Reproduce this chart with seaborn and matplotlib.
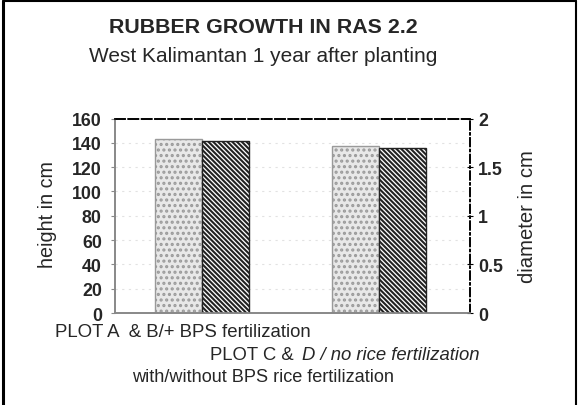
import pandas as pd
import matplotlib.pyplot as plt
import seaborn as sns
from matplotlib.lines import Line2D

# values
plots = ['PLOT A & B', 'PLOT C & D']
height_cm = [143, 137]
diameter_cm = [1.77, 1.70]
series = ['height', 'diameter']

height_ticks = [0, 20, 40, 60, 80, 100, 120, 140, 160]
diameter_ticks = [0, 0.5, 1, 1.5, 2]
diameter_labels = ['0', '0.5', '1', '1.5', '2']

sns.set_style('white')
plt.rcParams['font.family'] = ['Liberation Sans', 'DejaVu Sans']
plt.rcParams['hatch.linewidth'] = 1.5

df_h = pd.DataFrame({'plot': plots, 'value': height_cm, 'series': 'height'})
df_d = pd.DataFrame({'plot': plots, 'value': diameter_cm, 'series': 'diameter'})
colors = {'height': '#e8e8e8', 'diameter': 'white'}

fig = plt.figure(figsize=(5.78, 4.06), dpi=100)
ax = fig.add_axes([0.199, 0.2266, 0.614, 0.479])
ax2 = ax.twinx()

sns.barplot(data=df_h, x='plot', y='value', hue='series', hue_order=series,
            order=plots, width=0.53, gap=0, dodge=True, ax=ax, legend=False,
            palette=colors, linewidth=1)
sns.barplot(data=df_d, x='plot', y='value', hue='series', hue_order=series,
            order=plots, width=0.53, gap=0, dodge=True, ax=ax2, legend=False,
            palette=colors, linewidth=1)

for p in ax.patches:
    p.set_hatch('...')
    p.set_edgecolor('#9a9a9a')
for p in ax2.patches:
    p.set_hatch('\\' * 7)
    p.set_edgecolor('#222222')

ax.set_xlim(-0.49, 1.51)
ax.set_ylim(0, 160)
ax2.set_ylim(0, 2)

ax.set_yticks(height_ticks)
ax.set_yticklabels([str(t) for t in height_ticks], fontsize=12.8, fontweight='bold')
ax2.set_yticks(diameter_ticks)
ax2.set_yticklabels(diameter_labels, fontsize=12.8, fontweight='bold')
ax.set_xticks([])
ax.set_xlabel('')
ax2.set_xlabel('')

ax.tick_params(axis='y', length=3, width=0.8, color='#888888', pad=6.5)
ax2.tick_params(axis='y', length=4, width=0.8, color='black', direction='inout', pad=4)

ax.set_ylabel('height in cm', fontsize=14.2)
ax.yaxis.set_label_coords(-0.163, 0.51)
ax2.set_ylabel('diameter in cm', fontsize=14.6)
ax2.yaxis.set_label_coords(1.135, 0.50)

# faint dotted gridlines
ax.set_axisbelow(True)
ax.yaxis.grid(True, linestyle=(0, (2, 4)), color='#e2e2e2', linewidth=0.8)

for a in (ax, ax2):
    a.spines['left'].set_color('#888888')
    a.spines['bottom'].set_color('#888888')
    a.spines['top'].set_color('black')
    a.spines['top'].set_linestyle((0, (6, 2)))
    a.spines['right'].set_color('black')
    a.spines['right'].set_linestyle((0, (5, 2, 1, 2)))
    for s in a.spines.values():
        s.set_linewidth(1.2)

fig.text(0.455, 0.933, 'RUBBER GROWTH IN RAS 2.2', ha='center', va='center',
         fontsize=15.4, fontweight='bold')
fig.text(0.455, 0.86, 'West Kalimantan 1 year after planting', ha='center',
         va='center', fontsize=15)

# category labels
fig.text(0.095, 0.182, 'PLOT A  & B/+ BPS fertilization', ha='left',
         va='center', fontsize=13.4)
fig.text(0.363, 0.125, 'PLOT C &', ha='left', va='center', fontsize=13.3)
fig.text(0.829, 0.125, 'D / no rice fertilization', ha='right', va='center',
         fontsize=13.3, style='italic')
fig.text(0.455, 0.071, 'with/without BPS rice fertilization', ha='center',
         va='center', fontsize=13.1)

# figure frame
fig.add_artist(Line2D([0.006, 0.006], [0, 0.995], color='black', lw=2.2))
fig.add_artist(Line2D([0.006, 0.997], [0.995, 0.995], color='black', lw=1.5))
fig.add_artist(Line2D([0.996, 0.996], [0, 0.995], color='black', lw=1.5))

fig.savefig('out.png', dpi=100)
